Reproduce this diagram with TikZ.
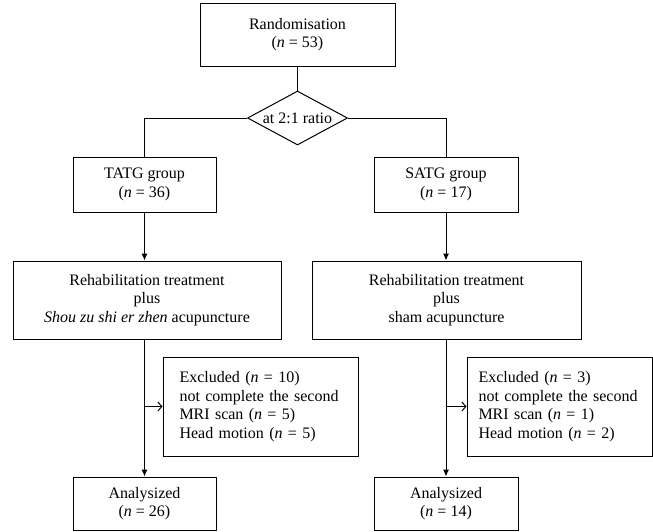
\documentclass[tikz,border=0pt]{standalone}
\usepackage{fontspec}
\setmainfont{Liberation Serif}
\usepackage{tikz}
\usetikzlibrary{arrows.meta,shapes.geometric}

\begin{document}
\begin{tikzpicture}[
  x=1pt,y=-1pt,
  every node/.style={font=\fontsize{16}{18.5}\selectfont,align=center},
  box/.style={draw,line width=1pt,inner sep=0pt},
  choice/.style={draw,line width=1pt,diamond,aspect=1.85,inner sep=0pt,
              minimum width=100pt,minimum height=54pt},
  note/.style={draw,line width=1pt,align=left,text width=162pt,
              minimum height=99pt},
  link/.style={line width=1pt},
  arr/.style={-{Latex[length=7pt,width=6pt]},line width=1pt},
  side/.style={-{Straight Barb[length=4pt,width=9pt]},line width=1pt}
]
\useasboundingbox (0,0) rectangle (653,531);
\node[box,minimum width=195pt,minimum height=63pt] (rand) at (297.5,34.5)
  {Randomisation\\(\textit{n} = 53)};
\node[choice] (ratio) at (297.5,118) {at 2:1 ratio};
\node[box,minimum width=143pt,minimum height=55pt] (tatg) at (144.5,184.5)
  {TATG group\\(\textit{n} = 36)};
\node[box,minimum width=144pt,minimum height=55pt] (satg) at (446,184.5)
  {SATG group\\(\textit{n} = 17)};
\node[box,minimum width=268pt,minimum height=78pt] (rehabL) at (147,300)
  {Rehabilitation treatment\\plus\\\textit{Shou zu shi er zhen} acupuncture};
\node[box,minimum width=269pt,minimum height=78pt] (rehabR) at (446.5,300)
  {Rehabilitation treatment\\plus\\sham acupuncture};
\node[note,inner xsep=16.5pt] (exclL) at (260.5,406.5)
  {Excluded (\textit{n} = 10)\\not complete the second\\MRI scan (\textit{n} = 5)\\Head motion (\textit{n} = 5)};
\node[note,inner xsep=11.5pt] (exclR) at (559.5,406.5)
  {Excluded (\textit{n} = 3)\\not complete the second\\MRI scan (\textit{n} = 1)\\Head motion (\textit{n} = 2)};
\node[box,minimum width=143pt,minimum height=53pt] (anaL) at (144.5,503.5)
  {Analysized\\(\textit{n} = 26)};
\node[box,minimum width=144pt,minimum height=53pt] (anaR) at (446,503.5)
  {Analysized\\(\textit{n} = 14)};

\draw[link] (rand)--(ratio);
\draw[link] (ratio.west)-|(tatg.north);
\draw[link] (ratio.east)-|(satg.north);
\draw[arr] (tatg.south)--(tatg.south|-rehabL.north);
\draw[arr] (satg.south)--(satg.south|-rehabR.north);
\draw[arr] (anaL.north|-rehabL.south)--(anaL.north);
\draw[arr] (anaR.north|-rehabR.south)--(anaR.north);
\draw[side] (anaL.north|-exclL.west)--(exclL.west);
\draw[side] (anaR.north|-exclR.west)--(exclR.west);
\end{tikzpicture}
\end{document}
